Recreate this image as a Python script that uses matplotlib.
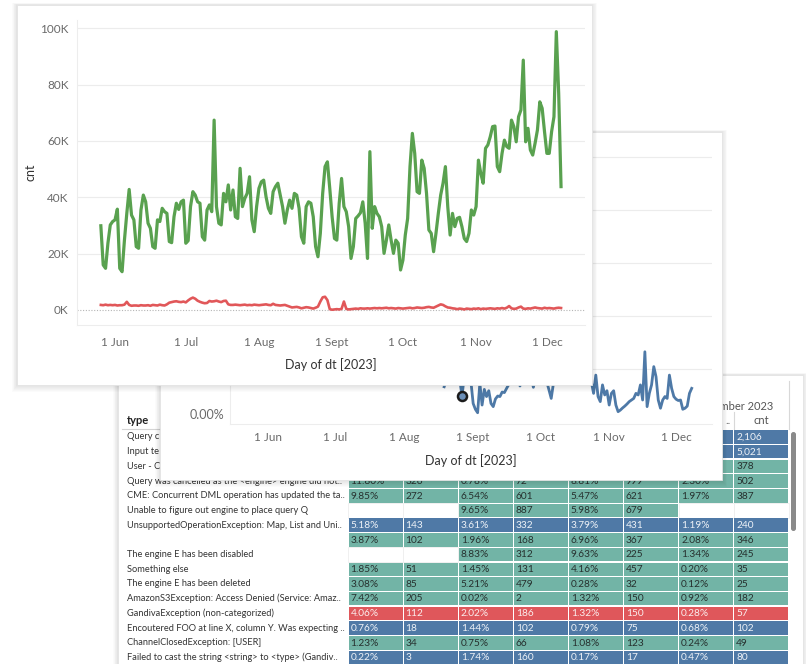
import matplotlib
matplotlib.use('Agg')
import matplotlib.pyplot as plt
import matplotlib.dates as mdates
from matplotlib.patches import Rectangle, FancyBboxPatch
from matplotlib.transforms import ScaledTranslation
import pandas as pd

plt.rcParams['font.family'] = ['Lato', 'DejaVu Sans']

W, H = 806, 664

# ---- data ----
# daily counts in thousands, 26 May .. 7 Dec 2023
green_k = [
    29.9, 16.0, 14.8, 23.7, 30.2, 31.4,
    32.0, 35.8, 14.8, 13.6, 24.8, 34.3, 42.8, 33.7, 32.0, 22.5,
    21.9, 35.5, 40.8, 38.4, 30.8, 29.0, 22.5, 21.9, 32.0, 31.4,
    36.1, 34.9, 34.3, 24.3, 23.9, 33.1, 37.9, 35.7, 38.4, 39.0,
    23.7, 24.6, 36.7, 42.0, 40.8, 38.4, 37.9, 26.0, 24.8, 35.5,
    37.3, 34.9, 67.4,
    36.7, 30.8, 30.2, 41.4, 38.4, 44.4, 35.5, 42.6, 33.1, 32.5,
    50.3, 36.7, 39.6, 41.4, 47.3, 32.0, 27.8, 36.7, 43.2, 45.5,
    46.1, 40.2, 36.1, 34.3, 42.0, 43.8, 45.0, 40.8, 36.7, 30.8,
    35.5, 39.0, 36.1, 41.4, 40.8, 36.1, 26.0, 23.7, 36.7, 38.4,
    37.9, 33.1, 22.5, 18.9, 27.2, 41.4, 50.9, 52.6,
    43.2, 33.1, 25.4, 24.8, 37.9, 46.7, 36.7, 34.9, 29.6, 18.3,
    22.5, 32.5, 33.4, 34.5, 38.4, 30.8, 18.3, 56.2, 29.0, 36.7,
    34.3, 33.1, 29.6, 20.1, 24.8, 30.2, 24.8, 20.1, 24.8, 23.7,
    14.2, 17.7, 26.6, 32.5, 50.9, 62.7, 55.6, 42.0, 41.4, 53.2,
    50.3, 41.4, 28.4, 27.2, 20.7, 27.2, 34.3, 40.8, 45.0,
    50.9, 36.7, 26.6, 34.3, 29.6, 32.5, 32.9, 29.6, 25.4, 24.3,
    27.2, 35.5, 33.7, 36.7, 53.2, 48.5, 45.0, 57.4, 58.6, 61.5,
    65.1, 65.3, 50.9, 49.1, 55.6, 60.3, 58.0, 57.4, 67.4, 65.1,
    59.7, 68.6, 71.0, 88.7, 59.7, 64.5, 56.8, 55.0, 59.2, 63.9,
    73.9, 71.6, 63.3, 55.6, 55.6, 63.3, 68.6, 98.8, 76.9, 43.8,
]
red_k = [
    1.8, 1.7, 1.9, 1.7, 1.8, 1.7, 1.8, 1.6, 1.7, 1.7, 1.9, 2.9,
    1.8, 1.5, 1.6, 1.6, 1.5, 1.7, 1.6, 1.6, 1.7, 1.5, 1.8, 1.7,
    1.6, 1.9, 1.7, 1.6, 2.0, 2.6,
    2.8, 3.0, 3.1, 2.9, 2.8, 3.0, 2.7, 3.4, 4.0, 4.4, 4.0, 3.3,
    2.9, 2.6, 2.4, 2.5, 3.2, 3.0, 3.1, 3.3,
    3.0, 2.8, 3.2, 3.3,
    2.0, 1.8, 1.8, 1.9, 1.8, 1.7, 1.8, 1.9, 1.7, 1.8, 1.7, 1.9,
    1.8, 1.7, 1.8, 1.9, 2.0, 1.8, 1.7, 2.2, 1.8, 1.7, 1.6, 1.7,
    1.8, 1.5, 1.2, 0.9, 1.0, 1.1, 0.9, 0.6, 0.8, 1.0, 0.9, 0.7,
    0.5, 0.8,
    1.2, 3.0, 4.5, 4.7, 3.5, 0.3, 0.1, 0.2, 0.3, 0.2, 0.4, 3.0,
    0.4, 0.2,
    0.3, 0.4, 0.5, 0.4, 0.6, 0.5, 0.5, 0.6, 0.5, 0.6, 0.7, 0.6,
    0.7, 0.6, 0.7, 0.8, 0.6, 0.7, 0.6, 0.5, 0.7, 0.6, 0.5, 0.6,
    0.7, 0.8, 0.6, 0.7, 0.9, 0.8,
    0.7, 0.8, 1.0, 1.1, 0.9, 0.8, 1.2, 1.6, 2.0, 1.8, 1.3, 0.9,
    0.8, 0.6, 0.5, 0.3, 0.5, 0.4, 0.2, 0.5,
    0.4, 0.3, 0.5, 0.4, 0.6, 0.3, 0.5, 0.4, 0.5, 0.6, 0.5, 0.4,
    0.6, 0.5, 0.7, 0.5, 0.8, 1.4, 0.6, 0.4, 0.5, 0.9, 1.2, 0.5,
    0.4, 0.6, 0.5, 0.7, 0.9, 0.7, 0.6, 0.5, 0.8, 0.6, 0.7, 0.6,
    0.5, 0.7, 0.8, 0.7,
]
# percent series of the chart behind, 19 Aug .. 8 Dec 2023
blue_pct = [
    1.33, 1.58, 1.96, 2.09, 1.84, 1.71, 1.96, 1.58, 0.98, 1.71,
    1.96, 1.84, 1.52, 0.70, 0.48, 0.35, 1.46, 0.64, 1.23, 0.96,
    1.18, 0.70, 0.58, 0.87, 0.98, 0.96, 1.13, 1.11, 1.27, 1.42,
    1.58, 1.71, 1.58, 1.77, 1.36, 1.71, 1.84, 1.65, 1.58, 1.71,
    1.31, 1.71, 1.90, 1.77, 1.58, 1.71, 1.52, 1.21, 0.89, 1.46,
    1.84, 2.09, 1.96, 1.71, 2.03, 1.90, 1.58, 1.77, 2.09, 1.84,
    1.65, 1.96, 1.77, 1.58, 1.90, 1.71, 1.52, 1.08, 1.77, 0.96,
    0.77, 1.40, 1.02, 1.18, 0.64, 1.08, 1.18, 0.64, 0.39, 0.45,
    0.53, 0.60, 0.68, 0.77, 0.83, 0.89, 1.08, 1.02, 1.40, 0.83,
    2.65, 0.58, 1.08, 1.40, 2.09, 1.71, 0.83, 0.52, 0.83, 0.96,
    0.89, 1.77, 1.27, 0.96, 0.86, 0.81, 0.83, 0.48, 0.52, 0.60,
    1.08, 1.27,
]
marker_day = '2023-08-27'

month_ticks = ['2023-06-01', '2023-07-01', '2023-08-01', '2023-09-01',
               '2023-10-01', '2023-11-01', '2023-12-01']
month_labels = ['1 Jun', '1 Jul', '1 Aug', '1 Sept', '1 Oct', '1 Nov', '1 Dec']
cnt_ticks = [0, 20, 40, 60, 80, 100]
pct_ticks = [0, 2, 4, 6, 8, 10]

row_labels = [
    'Query c', 'Input te', 'User - C',
    'Query was cancelled as the <engine> engine did not..',
    'CME: Concurrent DML operation has updated the ta..',
    'Unable to figure out engine to place query Q',
    'UnsupportedOperationException: Map, List and Uni..',
    '',
    'The engine E has been disabled',
    'Something else',
    'The engine E has been deleted',
    'AmazonS3Exception: Access Denied (Service: Amaz..',
    'GandivaException (non-categorized)',
    'Encoutered FOO at line X, column Y. Was expecting ..',
    'ChannelClosedException: [USER]',
    'Failed to cast the string <string> to <type> (Gandiv..',
]
row_values = [
    ['', '', '', '', '', '', '', '2,106'],
    ['', '', '', '', '', '', '', '5,021'],
    ['', '', '', '', '', '', '', '378'],
    ['11.80%', '326', '0.78%', '72', '8.81%', '999', '2.30%', '502'],
    ['9.85%', '272', '6.54%', '601', '5.47%', '621', '1.97%', '387'],
    [None, None, '9.65%', '887', '5.98%', '679', None, None],
    ['5.18%', '143', '3.61%', '332', '3.79%', '431', '1.19%', '240'],
    ['3.87%', '102', '1.96%', '168', '6.96%', '367', '2.08%', '346'],
    [None, None, '8.83%', '312', '9.63%', '225', '1.34%', '245'],
    ['1.85%', '51', '1.45%', '131', '4.16%', '457', '0.20%', '35'],
    ['3.08%', '85', '5.21%', '479', '0.28%', '32', '0.12%', '25'],
    ['7.42%', '205', '0.02%', '2', '1.32%', '150', '0.92%', '182'],
    ['4.06%', '112', '2.02%', '186', '1.32%', '150', '0.28%', '57'],
    ['0.76%', '18', '1.44%', '102', '0.79%', '75', '0.68%', '102'],
    ['1.23%', '34', '0.75%', '66', '1.08%', '123', '0.24%', '49'],
    ['0.22%', '3', '1.74%', '160', '0.17%', '17', '0.47%', '80'],
]
row_kind = ['blue', 'blue', 'teal', 'teal', 'teal', 'teal', 'blue', 'teal',
            'teal', 'teal', 'teal', 'teal', 'red', 'blue', 'teal', 'blue']

fill = {'teal': '#72b4a6', 'blue': '#4f79a6', 'red': '#df575b'}
ink = {'teal': '#26302e', 'blue': '#eef2f7', 'red': '#fbeeee'}

# ---- helpers (pixel layout) ----
fig = plt.figure(figsize=(W / 100, H / 100), dpi=100)


def overlay(z):
    ax = fig.add_axes([0, 0, 1, 1], zorder=z)
    ax.set_xlim(0, W)
    ax.set_ylim(H, 0)
    ax.axis('off')
    return ax


def plot_axes(x0, y0, x1, y1, z):
    ax = fig.add_axes([x0 / W, 1 - y1 / H, (x1 - x0) / W, (y1 - y0) / H], zorder=z)
    ax.patch.set_alpha(0)
    return ax


def panel(ax, x0, y0, x1, y1):
    # soft drop shadow, then the white card
    for i in range(1, 8):
        ax.add_patch(Rectangle((x0 - i * 0.7, y0 - i * 0.3), (x1 - x0) + i * 1.4,
                               (y1 - y0) + i * 1.3, facecolor='black',
                               alpha=0.016, lw=0))
    ax.add_patch(Rectangle((x0, y0), x1 - x0, y1 - y0, facecolor='white',
                           edgecolor='#e3e3e3', lw=0.6))


def date_lim(x0, x1, ref_px, px_per_day):
    ref = mdates.date2num(pd.Timestamp('2023-06-01'))
    return ref + (x0 - ref_px) / px_per_day, ref + (x1 - ref_px) / px_per_day


def style_axes(ax):
    for s in ['top', 'right']:
        ax.spines[s].set_visible(False)
    for s in ['left', 'bottom']:
        ax.spines[s].set_color('#ededed')
        ax.spines[s].set_linewidth(0.8)
    ax.tick_params(length=0, labelsize=8.5, labelcolor='#6a6a6a')
    ax.set_xticks(mdates.date2num(pd.to_datetime(month_ticks)))
    ax.set_xticklabels(month_labels)


# ---- table (back layer) ----
tb = overlay(0)
panel(tb, 118, 375, 803, 680)
tb.text(127, 421, 'type', fontsize=8, color='#222222', va='center', fontweight='bold')
tb.plot([122, 346], [429, 429], color='#d4d4d4', lw=0.8)
tb.text(734, 406, 'December 2023', fontsize=8, color='#555555', ha='center', va='center')
tb.text(731, 420, '..', fontsize=8, color='#777777', ha='right', va='center')
tb.text(761, 420, 'cnt', fontsize=8, color='#555555', ha='center', va='center')
tb.plot([734, 734], [412, 429], color='#d8d8d8', lw=0.8)
tb.plot([789, 789], [381, 429], color='#d8d8d8', lw=0.8)

col_x0, col_w = 348, 55.1
row_y0, row_h = 429.6, 14.7
for i, (lab, vals, kind) in enumerate(zip(row_labels, row_values, row_kind)):
    y = row_y0 + i * row_h
    tb.text(127, y + row_h / 2, lab, fontsize=6.7, color='#333333', va='center')
    for j, v in enumerate(vals):
        x = col_x0 + j * col_w
        if v is None:
            tb.add_patch(Rectangle((x, y), col_w, row_h, facecolor='white',
                                   edgecolor='#eeeeee', lw=0.6))
            continue
        tb.add_patch(Rectangle((x + 0.6, y + 0.6), col_w - 1.2, row_h - 1.2,
                               facecolor=fill[kind], lw=0))
        tb.text(x + 2.5, y + row_h / 2 + 0.3, v, fontsize=7.3, color=ink[kind], va='center')

tb.add_patch(FancyBboxPatch((791, 432), 5, 99, boxstyle='round,pad=0,rounding_size=2.5',
                            facecolor='#8a8a8a', lw=0))

# ---- middle chart (percent) ----
mf = overlay(2)
panel(mf, 160, 132, 722, 480)
mid = plot_axes(230, 140, 712, 424, 3)
mid.set_xlim(*date_lim(230, 712, 268, 2.23))
mid.set_ylim((422 - 424) / 26.5, (422 - 140) / 26.5)
style_axes(mid)
mid.set_yticks(pct_ticks)
mid.set_yticklabels([f'{t:.2f}%' for t in pct_ticks])
mid.tick_params(axis='y', pad=4, labelsize=9)
mid.tick_params(axis='x', pad=6)
lift = ScaledTranslation(0, 6 / 72, fig.dpi_scale_trans)
for lbl in mid.get_yticklabels():
    lbl.set_transform(lbl.get_transform() + lift)
for t in pct_ticks[1:]:
    mid.axhline(t, color='#ececec', lw=0.8, zorder=1)
blue = pd.Series(blue_pct, index=pd.date_range('2023-08-19', periods=len(blue_pct), freq='D'))
mid.plot(blue.index, blue.values, color='#4e79a7', lw=2.0, zorder=3, solid_joinstyle='round')
mid.plot(pd.Timestamp(marker_day), blue[marker_day], 'o', ms=6.5, mfc='#6b8fb8',
         mec='#1c1c1c', mew=1.8, zorder=4)
mid.set_xlabel('Day of dt [2023]', fontsize=9, color='#333333', labelpad=8)

# ---- front chart (counts) ----
ff = overlay(4)
panel(ff, 17, 5, 592, 385)
front = plot_axes(77, 20, 585, 325, 5)
front.set_xlim(*date_lim(77, 585, 115, 2.36))
front.set_ylim((310 - 325) / 2.817, (310 - 20) / 2.817)
style_axes(front)
front.set_yticks(cnt_ticks)
front.set_yticklabels([f'{t}K' for t in cnt_ticks])
front.tick_params(axis='y', pad=6)
front.tick_params(axis='x', pad=9)
for t in cnt_ticks[1:]:
    front.axhline(t, color='#ececec', lw=0.8, zorder=1)
front.axhline(0, color='#b5b5b5', lw=0.8, ls=(0, (1, 1.5)), zorder=1)
days = pd.date_range('2023-05-26', periods=len(green_k), freq='D')
front.plot(days, green_k, color='#59a14f', lw=2.3, zorder=3, solid_joinstyle='round')
front.plot(days, red_k, color='#e15759', lw=1.9, zorder=3, solid_joinstyle='round')
front.set_xlabel('Day of dt [2023]', fontsize=9, color='#333333', labelpad=7)
front.set_ylabel('cnt', fontsize=9, color='#333333', labelpad=3)

fig.savefig('out.png', dpi=100)
